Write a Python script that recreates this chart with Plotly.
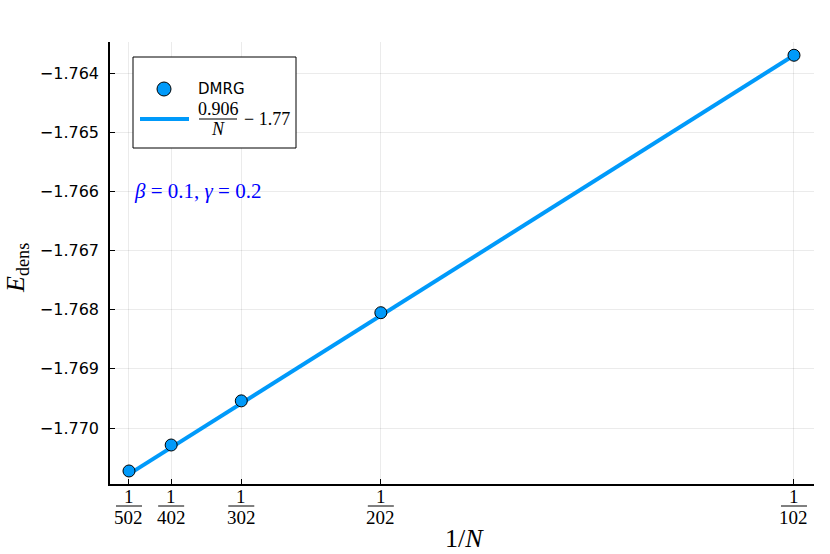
import plotly.graph_objects as go

# ---- data ----
N_values = [502, 402, 302, 202, 102]
E_dens = [-1.770726, -1.770287, -1.769541, -1.768051, -1.763700]
fit_N = [502, 102]
fit_E = [-1.77078, -1.76370]
y_ticks = [-1.770, -1.769, -1.768, -1.767, -1.766, -1.765, -1.764]
y_ticklabels = ["\u22121.770", "\u22121.769", "\u22121.768", "\u22121.767", "\u22121.766", "\u22121.765", "\u22121.764"]
series_name = "DMRG"
fit_label_num = "0.906"
fit_label_rest = "\u2212 1.77"
param_text = "<i>\u03b2</i> = 0.1, <i>\u03b3</i> = 0.2"

inv_N = [1.0 / n for n in N_values]
fit_x = [1.0 / n for n in fit_N]

BLUE = "#009AFA"
W, H = 830, 554
L, R, T, B = 110, 814, 42, 484  # plot area in pixels


def px(x):
    return (x - L) / (R - L)


def py(y):
    return (B - y) / (B - T)


fig = go.Figure()
fig.add_trace(go.Scatter(x=fit_x, y=fit_E, mode="lines",
                         line=dict(color=BLUE, width=4), showlegend=False, hoverinfo="skip"))
fig.add_trace(go.Scatter(x=inv_N, y=E_dens, mode="markers",
                         marker=dict(color=BLUE, size=12, line=dict(color="black", width=1)),
                         showlegend=False))

serif = "Liberation Serif"
annotations = []
shapes = []

# fraction tick labels on x axis
for n, xv in zip(N_values, inv_N):
    annotations.append(dict(x=xv, xref="x", y=0, yref="paper", yshift=-12, text="1",
                            showarrow=False, xanchor="center", yanchor="middle",
                            font=dict(family=serif, size=19, color="black")))
    annotations.append(dict(x=xv, xref="x", y=0, yref="paper", yshift=-33, text=str(n),
                            showarrow=False, xanchor="center", yanchor="middle",
                            font=dict(family=serif, size=19, color="black")))
    shapes.append(dict(type="line", xref="x", xsizemode="pixel", xanchor=xv, x0=-13, x1=13,
                       yref="paper", ysizemode="pixel", yanchor=0, y0=-22, y1=-22,
                       line=dict(color="black", width=1)))

# axis titles
annotations.append(dict(x=px(464), y=py(538), xref="paper", yref="paper", text="1/<i>N</i>",
                        showarrow=False, xanchor="center", yanchor="middle",
                        font=dict(family=serif, size=26, color="black")))
annotations.append(dict(x=px(17), y=py(268), xref="paper", yref="paper",
                        text="<i>E</i><sub>dens</sub>", textangle=-90,
                        showarrow=False, xanchor="center", yanchor="middle",
                        font=dict(family=serif, size=26, color="black")))

# parameter text
annotations.append(dict(x=px(132), y=py(191), xref="paper", yref="paper", text=param_text,
                        showarrow=False, xanchor="left", yanchor="middle",
                        font=dict(family=serif, size=21, color="blue")))

# manual legend
shapes.append(dict(type="rect", xref="paper", yref="paper", x0=px(133), x1=px(296),
                   y0=py(148), y1=py(57), line=dict(color="black", width=1), fillcolor="white",
                   layer="above"))
shapes.append(dict(type="line", xref="paper", yref="paper", x0=px(140), x1=px(189),
                   y0=py(119), y1=py(119), line=dict(color=BLUE, width=4), layer="above"))
shapes.append(dict(type="circle", xref="paper", xsizemode="pixel", xanchor=px(164), x0=-7, x1=7,
                   yref="paper", ysizemode="pixel", yanchor=py(89), y0=-7, y1=7,
                   fillcolor=BLUE, line=dict(color="black", width=1), layer="above"))
shapes.append(dict(type="line", xref="paper", yref="paper", x0=px(199), x1=px(237),
                   y0=py(119), y1=py(119), line=dict(color="black", width=1), layer="above"))
annotations.append(dict(x=px(196), y=py(89), xref="paper", yref="paper", text=series_name,
                        showarrow=False, xanchor="left", yanchor="middle",
                        font=dict(family="DejaVu Sans", size=15, color="black")))
annotations.append(dict(x=px(218), y=py(109), xref="paper", yref="paper", text=fit_label_num,
                        showarrow=False, xanchor="center", yanchor="middle",
                        font=dict(family=serif, size=18, color="black")))
annotations.append(dict(x=px(218), y=py(129), xref="paper", yref="paper", text="<i>N</i>",
                        showarrow=False, xanchor="center", yanchor="middle",
                        font=dict(family=serif, size=18, color="black")))
annotations.append(dict(x=px(242), y=py(119), xref="paper", yref="paper", text=fit_label_rest,
                        showarrow=False, xanchor="left", yanchor="middle",
                        font=dict(family=serif, size=18, color="black")))

fig.update_layout(
    width=W, height=H,
    margin=dict(l=L, r=W - R, t=T, b=H - B, pad=0),
    paper_bgcolor="white", plot_bgcolor="white",
    showlegend=False,
    xaxis=dict(range=[0.001769, 0.010039], tickvals=inv_N, showticklabels=False,
               ticks="inside", ticklen=5, tickcolor="black", showline=True, linecolor="black",
               linewidth=1.5, showgrid=True, gridcolor="rgba(0,0,0,0.08)", gridwidth=1,
               zeroline=False, mirror=False),
    yaxis=dict(range=[-1.770946, -1.763476], tickvals=y_ticks, ticktext=y_ticklabels,
               ticks="inside", ticklen=5, tickcolor="black", showline=True, linecolor="black",
               linewidth=1.5, showgrid=True, gridcolor="rgba(0,0,0,0.08)", gridwidth=1,
               zeroline=False, tickfont=dict(family="DejaVu Sans", size=16, color="black"),
               ticklabelstandoff=6, mirror=False),
    annotations=annotations,
    shapes=shapes,
)

fig.write_html("out.html", config={"displayModeBar": False},
               post_script="document.body.style.margin='0';")
